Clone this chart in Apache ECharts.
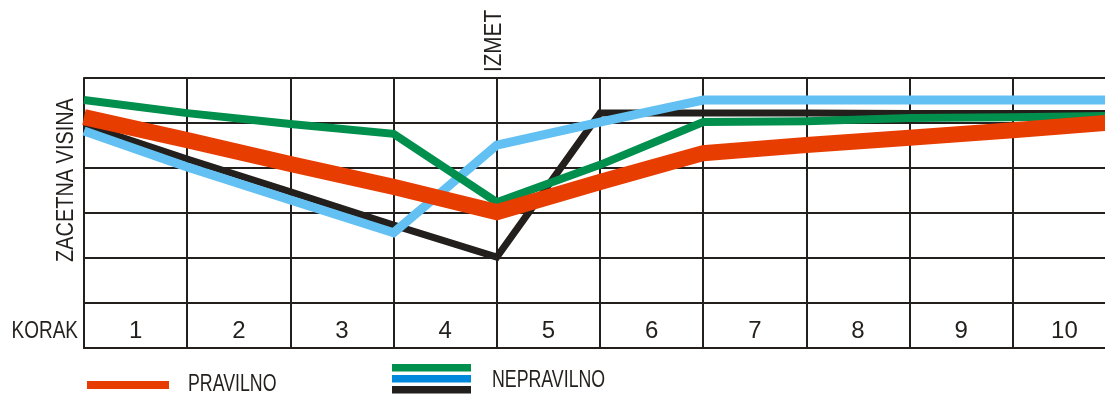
<!DOCTYPE html>
<html>
<head>
<meta charset="utf-8">
<script src="https://cdn.jsdelivr.net/npm/echarts@6/dist/echarts.min.js"></script>
<style>
html,body{margin:0;padding:0;background:#fff;}
#chart{width:1105px;height:394px;}
</style>
</head>
<body>
<div id="chart"></div>
<script>
// ---- data ----
const stepPositions = [0, 1, 2, 3, 4, 5, 6, 7, 8, 9, 10];
const stepLabels = ['1', '2', '3', '4', '5', '6', '7', '8', '9', '10'];
const pravilno = [5.13, 4.62, 4.09, 3.58, 3.02, 3.69, 4.33, 4.51, 4.67, 4.84, 5.02];
const nepravilnoGreen = [5.51, 5.22, 4.98, 4.76, 3.24, 4.07, 5.02, 5.04, 5.11, 5.13, 5.16];
const nepravilnoBlue = [4.82, 4.02, 3.29, 2.56, 4.51, 5.02, 5.51, 5.51, 5.51, 5.51, 5.51];
const nepravilnoBlack = [4.96, 4.20, 3.47, 2.73, 2.02, 5.22, 5.22, 5.22, 5.21, 5.21, 5.21];
const yTicks = [0, 1, 2, 3, 4, 5, 6];

const FONT = "'Liberation Sans', Arial, sans-serif";
const INK = '#231f1c';
const C_ORANGE = '#e83d00';
const C_GREEN = '#008f4c';
const C_BLUE = '#63c0f2';
const C_BLACK = '#231f1c';
const C_LEGEND_BLUE = '#0088dd';

const pairs = arr => stepPositions.map((x, i) => [x, arr[i]]);

function lineSeries(name, arr, color, width, z) {
  return {
    type: 'line', name, data: pairs(arr), xAxisIndex: 0, yAxisIndex: 0,
    showSymbol: false, symbol: 'none', z,
    lineStyle: { color, width, join: 'miter', miterLimit: 10, cap: 'butt' },
    animation: false, silent: true
  };
}

function label(text, x, y, size, sx, align, rot) {
  return {
    type: 'text', x, y, scaleX: sx, rotation: rot || 0,
    style: { text, font: size + 'px ' + FONT, fill: INK, align, verticalAlign: 'middle' }
  };
}

const chart = echarts.init(document.getElementById('chart'), null, { renderer: 'canvas' });
chart.setOption({
  animation: false,
  grid: { left: 84, top: 78, right: -11, bottom: 46, containLabel: false, outerBoundsMode: 'none' },
  xAxis: [
    {
      type: 'value', min: 0, max: 10, interval: 1,
      axisLine: { show: true, lineStyle: { color: INK, width: 2 } },
      axisTick: { show: false }, axisLabel: { show: false },
      splitLine: { show: true, lineStyle: { color: INK, width: 2 } }
    },
    {
      type: 'category', data: stepLabels, boundaryGap: true, position: 'bottom',
      axisLine: { show: false }, axisTick: { show: false }, splitLine: { show: false },
      axisLabel: { show: true, inside: true, margin: 5, fontFamily: FONT, fontSize: 24, color: INK, interval: 0 }
    }
  ],
  yAxis: {
    type: 'value', min: yTicks[0], max: yTicks[yTicks.length - 1], interval: 1,
    axisLine: { show: true, lineStyle: { color: INK, width: 2 } },
    axisTick: { show: false }, axisLabel: { show: false },
    splitLine: { show: true, lineStyle: { color: INK, width: 2 } }
  },
  series: [
    lineSeries('NEPRAVILNO', nepravilnoBlack, C_BLACK, 7, 2),
    lineSeries('NEPRAVILNO', nepravilnoBlue, C_BLUE, 9, 3),
    lineSeries('NEPRAVILNO', nepravilnoGreen, C_GREEN, 8, 4),
    lineSeries('PRAVILNO', pravilno, C_ORANGE, 16, 5)
  ],
  graphic: [
    label('ZACETNA VISINA', 66, 180, 24, 0.83, 'center', Math.PI / 2),
    label('IZMET', 495, 41, 23, 0.9, 'center', Math.PI / 2),
    label('KORAK', 78, 331, 24, 0.79, 'right'),
    { type: 'rect', shape: { x: 87, y: 381, width: 82, height: 8 }, style: { fill: C_ORANGE } },
    label('PRAVILNO', 188, 384, 24, 0.74, 'left'),
    { type: 'rect', shape: { x: 392, y: 364, width: 79, height: 7.5 }, style: { fill: C_GREEN } },
    { type: 'rect', shape: { x: 392, y: 375, width: 79, height: 7.5 }, style: { fill: C_LEGEND_BLUE } },
    { type: 'rect', shape: { x: 392, y: 386, width: 79, height: 7.5 }, style: { fill: C_BLACK } },
    label('NEPRAVILNO', 492, 380, 24, 0.74, 'left')
  ]
});
</script>
</body>
</html>
